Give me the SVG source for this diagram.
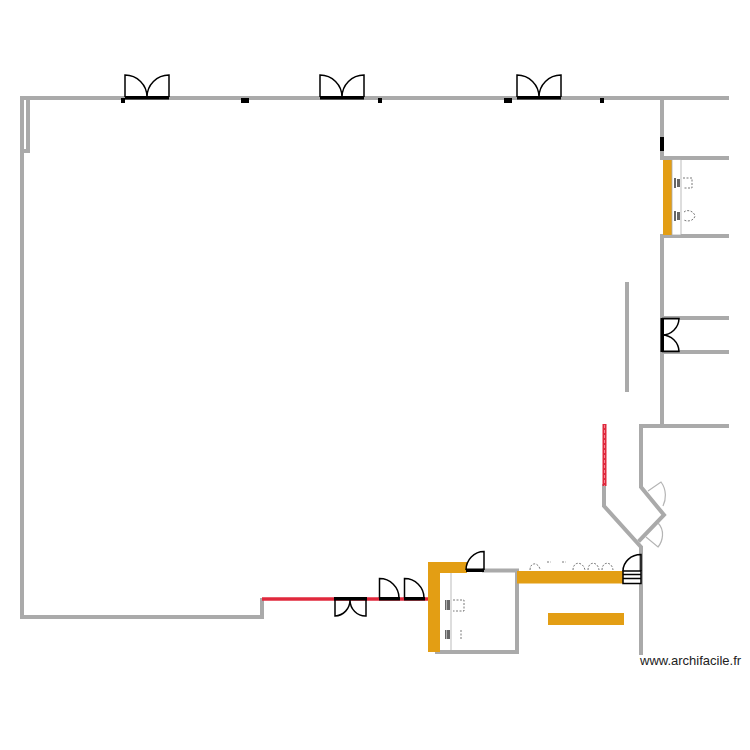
<svg xmlns="http://www.w3.org/2000/svg" width="750" height="750" viewBox="0 0 750 750">
<style>
.w{fill:none;stroke:#aaaaaa;stroke-width:4;stroke-linecap:square}
.d{fill:none;stroke:#000;stroke-width:1.500}
.b{fill:#000}
.o{fill:#e39e14}
.t{fill:none;stroke:#b4b4b4;stroke-width:1.200}
.c{fill:#fff;stroke:#555;stroke-width:.8;stroke-dasharray:2 1.500}
.s{fill:#666}
</style>
<rect width="750" height="750" fill="#fff"/>
<g id="walls">
<path class="w" d="M22 98H727M22 98V617H262V600"/>
<path class="w" d="M28 98V151H22"/>
<path class="w" d="M662 98V158H727M662 236H727M662 236V425M662 318H727M662 352H727"/>
<path class="w" d="M627 284V390"/>
<path class="w" d="M641 426H727M641 426V487L664 515L640 540"/>
<path class="w" d="M604 486V506L641 547V653"/>
<path class="w" d="M484 570.500H517V652H437"/>
</g>
<g id="counters">
<rect class="o" x="663" y="160" width="9" height="75"/>
<rect x="672" y="159.500" width="9" height="75.500" fill="#fff" stroke="#aaa" stroke-width=".8"/>
<rect class="o" x="428" y="562" width="39" height="11"/>
<rect class="o" x="428" y="562" width="12" height="90"/>
<rect x="440" y="573" width="11" height="77" fill="#fff"/>
<path d="M451 573V650" stroke="#bbb" stroke-width="1"/>
<rect class="o" x="517" y="571" width="106" height="12.500"/>
<rect class="o" x="548" y="613" width="76" height="12"/>
</g>
<g id="red-walls">
<path d="M262 599H428" stroke="#e0283c" stroke-width="3.500" fill="none"/>
<rect x="602.500" y="424" width="4" height="62" fill="#e0283c"/>
<path d="M604.500 425V486" stroke="#f2a0a8" stroke-width=".8" stroke-dasharray="3 2"/>
</g>
<g id="posts">
<rect class="b" x="121" y="98" width="4" height="5"/>
<rect class="b" x="241" y="98" width="8" height="5"/>
<rect class="b" x="378" y="98" width="4" height="5"/>
<rect class="b" x="504" y="98" width="8" height="5"/>
<rect class="b" x="600" y="98" width="4" height="5"/>
<rect class="b" x="660" y="137" width="4" height="14"/>
</g>
<g id="door-top-1">
<rect class="b" x="125" y="96" width="44" height="3.500"/>
<path class="d" d="M125 97V75A22 22 0 0 1 147 97M169 97V75A22 22 0 0 0 147 97"/>
</g>
<g id="door-top-2">
<rect class="b" x="320" y="96" width="44" height="3.500"/>
<path class="d" d="M320 97V75A22 22 0 0 1 342 97M364 97V75A22 22 0 0 0 342 97"/>
</g>
<g id="door-top-3">
<rect class="b" x="517" y="96" width="44" height="3.500"/>
<path class="d" d="M517 97V75A22 22 0 0 1 539 97M561 97V75A22 22 0 0 0 539 97"/>
</g>
<g id="door-right">
<rect class="b" x="660.500" y="318" width="3.500" height="34"/>
<path class="d" d="M662 318.500H679A17 17 0 0 1 662 335M662 351.500H679A17 17 0 0 0 662 335"/>
</g>
<g id="door-diagonal-1">
<path class="t" d="M648 491L661 482C667 490 666 500 663 506"/>
</g>
<g id="door-diagonal-2">
<path class="t" d="M646 537L658 547C663 541 665 530 658 523"/>
</g>
<g id="door-bottom-1">
<rect class="b" x="334" y="597" width="33" height="3.500"/>
<path class="d" d="M335 600V616A15.500 16 0 0 0 350 600M366 600V616A15.500 16 0 0 1 350 600"/>
</g>
<g id="door-bottom-2">
<rect class="b" x="379" y="597" width="21" height="3.500"/>
<path class="d" d="M379.500 598V578.500A19.500 19.500 0 0 1 399 598"/>
</g>
<g id="door-bottom-3">
<rect class="b" x="404" y="597" width="21" height="3.500"/>
<path class="d" d="M404.500 598V578.500A19.500 19.500 0 0 1 424 598"/>
</g>
<g id="door-room">
<rect class="b" x="466" y="568.500" width="18" height="3.500"/>
<path class="d" d="M484 570V551.500A18 18.500 0 0 0 466 570"/>
</g>
<g id="door-stairs">
<rect x="623" y="571" width="18" height="12.500" fill="#fff" stroke="#000" stroke-width="1.500"/>
<path d="M623 574.500H641M623 578.500H641" stroke="#000" stroke-width="1.500"/>
<path class="d" d="M623 571A18 16.500 0 0 1 641 554.500V571"/>
</g>
<g id="chairs-right">
<rect class="s" x="674" y="178" width="2" height="10"/><rect class="s" x="677" y="179" width="3" height="8"/>
<path class="c" d="M683 178H692V188H683"/>
<rect class="s" x="674" y="211" width="2" height="10"/><rect class="s" x="677" y="212" width="3" height="8"/>
<path class="c" d="M684 212C687 209 694 211 695 216C694 221 687 222 684 220"/>
</g>
<g id="chairs-room">
<rect class="s" x="445" y="600" width="1.500" height="10"/><rect class="s" x="447" y="600" width="3" height="10"/>
<path class="c" d="M453 600H464V611H453"/>
<rect class="s" x="445" y="630" width="1.500" height="9"/><rect class="s" x="447" y="630" width="3" height="9"/>
<path class="c" d="M461 630V639"/>
</g>
<g id="chairs-bar">
<path class="c" d="M530 570C530 562 538 562 540 569"/>
<path class="c" d="M547 562H551M562 562H566"/>
<path class="c" d="M573 570C573 561 583 561 585 570"/>
<path class="c" d="M588 570C588 561 598 561 599 570"/>
<path class="c" d="M602 570C602 561 612 561 613 570"/>
</g>
<text x="640" y="665" font-family="Liberation Sans, Arial, sans-serif" font-size="13" fill="#222">www.archifacile.fr</text>
</svg>
